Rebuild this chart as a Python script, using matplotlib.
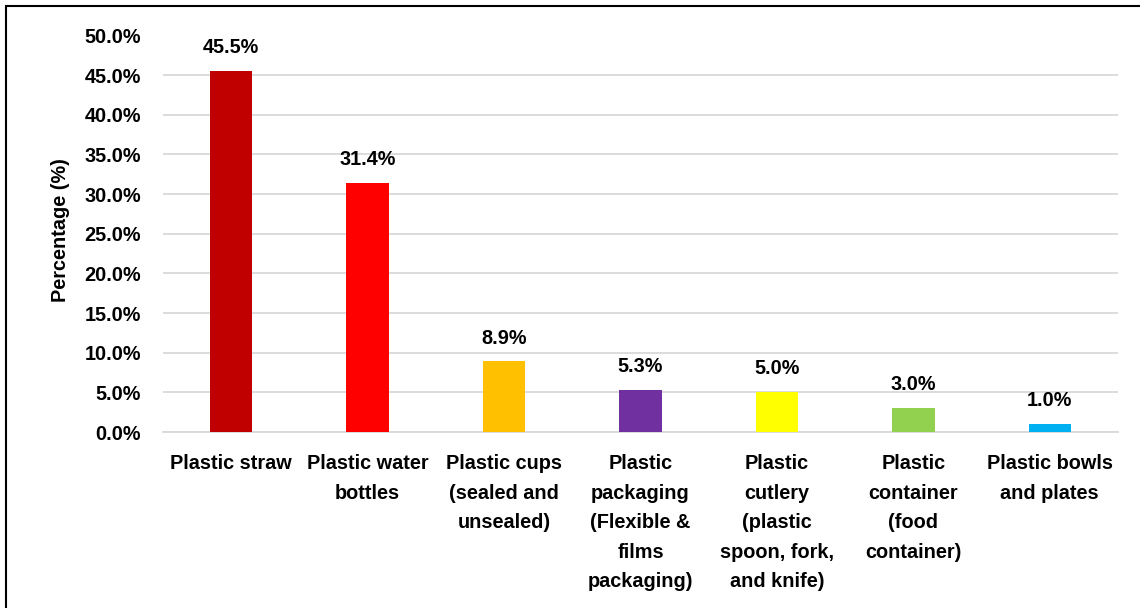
import matplotlib
matplotlib.use("Agg")
import matplotlib.pyplot as plt
from matplotlib.patches import Rectangle

categories = ["Plastic straw", "Plastic water\nbottles", "Plastic cups\n(sealed and\nunsealed)",
              "Plastic\npackaging\n(Flexible &\nfilms\npackaging)", "Plastic\ncutlery\n(plastic\nspoon, fork,\nand knife)",
              "Plastic\ncontainer\n(food\ncontainer)", "Plastic bowls\nand plates"]
values = [45.5, 31.4, 8.9, 5.3, 5.0, 3.0, 1.0]
colors = ["#C00000", "#FF0000", "#FFC000", "#7030A0", "#FFFF00", "#92D050", "#00B0F0"]
yticks = [0, 5, 10, 15, 20, 25, 30, 35, 40, 45, 50]

plt.rcParams['font.family'] = ['Liberation Sans', 'DejaVu Sans']
plt.rcParams['font.weight'] = 'bold'
FS = 14.3

W, H = 1140, 608
fig = plt.figure(figsize=(W/100, H/100), dpi=100)
left, right, top, bottom = 163, 1118, 35.5, 432
ax = fig.add_axes([left/W, 1-bottom/H, (right-left)/W, (bottom-top)/H])

x = list(range(len(categories)))
ax.bar(x, values, width=0.31, color=colors, zorder=3)
ax.set_xlim(-0.5, len(categories)-0.5)
ax.set_ylim(0, 50)
ax.set_yticks(yticks)
ax.set_yticklabels([f"{v:.1f}%" for v in yticks], fontsize=FS, fontweight='bold')
ax.set_xticks(x)
ax.set_xticklabels(categories, fontsize=FS, fontweight='bold', va='top', linespacing=1.7)
ax.tick_params(axis='both', length=0)
ax.tick_params(axis='y', pad=16)
ax.tick_params(axis='x', pad=16)
ax.grid(axis='y', color='#D9D9D9', linewidth=1.3, zorder=0)
for s in ['top', 'right', 'left']:
    ax.spines[s].set_visible(False)
ax.spines['bottom'].set_color('#D9D9D9')
ax.spines['bottom'].set_linewidth(1.3)

for xi, v in zip(x, values):
    ax.annotate(f"{v:.1f}%", (xi, v), xytext=(0, 10), textcoords='offset points',
                ha='center', va='bottom', fontsize=FS, fontweight='bold')

fig.text(60/W, 1-230/H, "Percentage (%)", rotation=90, ha='center', va='center',
         fontsize=FS, fontweight='bold')

fig.patches.append(Rectangle((6/W, -0.1), 1.2, 1-6/H+0.1, transform=fig.transFigure,
                             fill=False, edgecolor='black', linewidth=1.5, figure=fig))

fig.savefig("out.png", dpi=100)
